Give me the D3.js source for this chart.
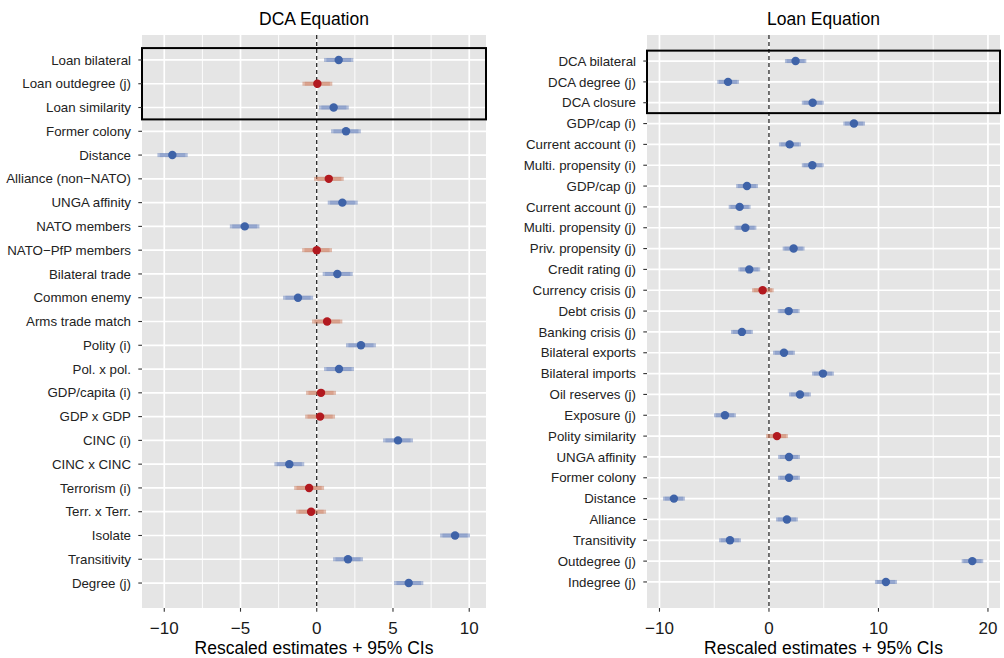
<!DOCTYPE html>
<html>
<head>
<meta charset="utf-8">
<script src="https://cdn.jsdelivr.net/npm/d3@7"></script>
<style>
  body { margin: 0; background: #ffffff; }
  svg { display: block; font-family: "Liberation Sans", Arial, sans-serif; }
</style>
</head>
<body>
<div id="chart"></div>
<script>
// DCA equation: terms, point estimates and 95% CI bounds
const dcaTerms = ["Loan bilateral", "Loan outdegree (j)", "Loan similarity", "Former colony",
  "Distance", "Alliance (non\u2212NATO)", "UNGA affinity", "NATO members", "NATO\u2212PfP members",
  "Bilateral trade", "Common enemy", "Arms trade match", "Polity (i)", "Pol. x pol.",
  "GDP/capita (i)", "GDP x GDP", "CINC (i)", "CINC x CINC", "Terrorism (i)", "Terr. x Terr.",
  "Isolate", "Transitivity", "Degree (j)"];
const dcaEst = [1.44, 0.04, 1.11, 1.92, -9.47, 0.79, 1.68, -4.72, 0.00, 1.35, -1.23, 0.68,
  2.90, 1.46, 0.28, 0.22, 5.33, -1.80, -0.50, -0.37, 9.07, 2.05, 6.03];
const dcaLo = [0.48, -0.94, 0.15, 0.94, -10.45, -0.18, 0.72, -5.70, -0.96, 0.39, -2.21, -0.31,
  1.92, 0.48, -0.70, -0.76, 4.35, -2.78, -1.48, -1.35, 8.09, 1.07, 5.07];
const dcaHi = [2.40, 1.02, 2.10, 2.89, -8.46, 1.77, 2.69, -3.76, 1.00, 2.36, -0.24, 1.68,
  3.88, 2.44, 1.26, 1.20, 6.31, -0.82, 0.48, 0.61, 10.05, 3.03, 6.99];
const dcaTicks = [-10, -5, 0, 5, 10];
const dcaMinor = [-7.5, -2.5, 2.5, 7.5];

// Loan equation
const loanTerms = ["DCA bilateral", "DCA degree (j)", "DCA closure", "GDP/cap (i)",
  "Current account (i)", "Multi. propensity (i)", "GDP/cap (j)", "Current account (j)",
  "Multi. propensity (j)", "Priv. propensity (j)", "Credit rating (j)", "Currency crisis (j)",
  "Debt crisis (j)", "Banking crisis (j)", "Bilateral exports", "Bilateral imports",
  "Oil reserves (j)", "Exposure (j)", "Polity similarity", "UNGA affinity", "Former colony",
  "Distance", "Alliance", "Transitivity", "Outdegree (j)", "Indegree (j)"];
const loanEst = [2.43, -3.74, 3.99, 7.76, 1.89, 3.96, -2.01, -2.68, -2.16, 2.25, -1.80, -0.58,
  1.80, -2.47, 1.37, 4.93, 2.83, -4.02, 0.73, 1.83, 1.83, -8.68, 1.64, -3.56, 18.57, 10.68];
const loanLo = [1.46, -4.72, 3.00, 6.79, 0.91, 3.00, -3.00, -3.68, -3.15, 1.25, -2.80, -1.55,
  0.80, -3.47, 0.37, 3.93, 1.83, -5.02, -0.27, 0.83, 0.83, -9.68, 0.64, -4.56, 17.60, 9.68];
const loanHi = [3.41, -2.74, 5.00, 8.77, 2.92, 5.00, -1.00, -1.68, -1.15, 3.25, -0.80, 0.43,
  2.80, -1.47, 2.37, 5.93, 3.83, -3.02, 1.73, 2.83, 2.83, -7.68, 2.64, -2.56, 19.57, 11.69];
const loanTicks = [-10, 0, 10, 20];
const loanMinor = [-5, 5, 15];

const width = 1004, height = 658;
const svg = d3.select("#chart").append("svg")
  .attr("width", width)
  .attr("height", height);

function drawPanel(cfg) {
  const x = d3.scaleLinear().domain(cfg.xDomain).range([cfg.left, cfg.right]);
  const y = d3.scalePoint().domain(cfg.terms).range([cfg.top, cfg.bottom]).padding(cfg.pad);
  const step = y.step();

  const rows = cfg.terms.map((t, i) => ({
    term: t, est: cfg.est[i], lo: cfg.lo[i], hi: cfg.hi[i]
  }));

  const g = svg.append("g");

  // panel background
  g.append("rect")
    .attr("x", cfg.left).attr("y", cfg.top)
    .attr("width", cfg.right - cfg.left).attr("height", cfg.bottom - cfg.top)
    .attr("fill", "#e5e5e5");

  // minor vertical grid
  g.selectAll(".minor").data(cfg.minor).enter().append("line")
    .attr("x1", d => x(d)).attr("x2", d => x(d))
    .attr("y1", cfg.top).attr("y2", cfg.bottom)
    .attr("stroke", "#ffffff").attr("stroke-width", 0.9);

  // major vertical grid
  g.selectAll(".major").data(cfg.ticks).enter().append("line")
    .attr("x1", d => x(d)).attr("x2", d => x(d))
    .attr("y1", cfg.top).attr("y2", cfg.bottom)
    .attr("stroke", "#ffffff").attr("stroke-width", 1.7);

  // horizontal grid
  g.selectAll(".hgrid").data(cfg.terms).enter().append("line")
    .attr("x1", cfg.left).attr("x2", cfg.right)
    .attr("y1", d => y(d)).attr("y2", d => y(d))
    .attr("stroke", "#ffffff").attr("stroke-width", 1.7);

  // zero reference line
  g.append("line")
    .attr("x1", x(0)).attr("x2", x(0))
    .attr("y1", cfg.top).attr("y2", cfg.bottom)
    .attr("stroke", "#000000").attr("stroke-width", 1.1)
    .attr("stroke-dasharray", "4,3");

  const sig = d => !(d.lo < 0 && d.hi > 0);

  // 95% intervals
  g.selectAll(".ci95").data(rows).enter().append("line")
    .attr("x1", d => x(d.lo)).attr("x2", d => x(d.hi))
    .attr("y1", d => y(d.term)).attr("y2", d => y(d.term))
    .attr("stroke", d => sig(d) ? "#5b78b8" : "#c8704f")
    .attr("stroke-opacity", 0.45)
    .attr("stroke-width", 4);

  // inner (90%) part of the interval, derived from the 95% bounds
  g.selectAll(".ci90").data(rows).enter().append("line")
    .attr("x1", d => x(d.est - (d.est - d.lo) * 1.645 / 1.96))
    .attr("x2", d => x(d.est + (d.hi - d.est) * 1.645 / 1.96))
    .attr("y1", d => y(d.term)).attr("y2", d => y(d.term))
    .attr("stroke", d => sig(d) ? "#5b78b8" : "#c8704f")
    .attr("stroke-opacity", 0.35)
    .attr("stroke-width", 4);

  // point estimates
  g.selectAll(".pt").data(rows).enter().append("circle")
    .attr("cx", d => x(d.est)).attr("cy", d => y(d.term))
    .attr("r", 4.2)
    .attr("fill", d => sig(d) ? "#3f63a8" : "#b2191f");

  // highlight box around the first three terms
  g.append("rect")
    .attr("x", cfg.left).attr("y", y(cfg.terms[0]) - step / 2)
    .attr("width", cfg.right - cfg.left)
    .attr("height", y(cfg.terms[2]) - y(cfg.terms[0]) + step)
    .attr("fill", "none")
    .attr("stroke", "#000000").attr("stroke-width", 2);

  // y axis ticks and labels
  g.selectAll(".ytick").data(cfg.terms).enter().append("line")
    .attr("x1", cfg.left - 3.7).attr("x2", cfg.left)
    .attr("y1", d => y(d)).attr("y2", d => y(d))
    .attr("stroke", "#333333").attr("stroke-width", 1.1);

  g.selectAll(".ylab").data(cfg.terms).enter().append("text")
    .attr("x", cfg.left - 11)
    .attr("y", d => y(d))
    .attr("dy", "0.35em")
    .attr("text-anchor", "end")
    .style("font-size", "13.3px")
    .style("fill", "#222222")
    .text(d => d);

  // x axis ticks and labels
  g.selectAll(".xtick").data(cfg.ticks).enter().append("line")
    .attr("x1", d => x(d)).attr("x2", d => x(d))
    .attr("y1", cfg.bottom).attr("y2", cfg.bottom + 3.7)
    .attr("stroke", "#333333").attr("stroke-width", 1.1);

  g.selectAll(".xlab").data(cfg.ticks).enter().append("text")
    .attr("x", d => x(d))
    .attr("y", cfg.bottom + 26)
    .attr("text-anchor", "middle")
    .style("font-size", "17px")
    .style("fill", "#1a1a1a")
    .text(d => d < 0 ? "\u2212" + Math.abs(d) : d);

  // titles
  g.append("text")
    .attr("x", (cfg.left + cfg.right) / 2)
    .attr("y", 25)
    .attr("text-anchor", "middle")
    .style("font-size", "17.5px")
    .style("fill", "#000000")
    .text(cfg.title);

  g.append("text")
    .attr("x", (cfg.left + cfg.right) / 2)
    .attr("y", 654)
    .attr("text-anchor", "middle")
    .style("font-size", "17.5px")
    .style("fill", "#000000")
    .text("Rescaled estimates + 95% CIs");
}

drawPanel({
  title: "DCA Equation",
  terms: dcaTerms, est: dcaEst, lo: dcaLo, hi: dcaHi,
  ticks: dcaTicks, minor: dcaMinor,
  xDomain: [-11.46, 11.1],
  left: 142, right: 486, top: 35, bottom: 608, pad: 1.05
});

drawPanel({
  title: "Loan Equation",
  terms: loanTerms, est: loanEst, lo: loanLo, hi: loanHi,
  ticks: loanTicks, minor: loanMinor,
  xDomain: [-11.14, 21.1],
  left: 647, right: 1000, top: 35, bottom: 608, pad: 1.25
});
</script>
</body>
</html>
